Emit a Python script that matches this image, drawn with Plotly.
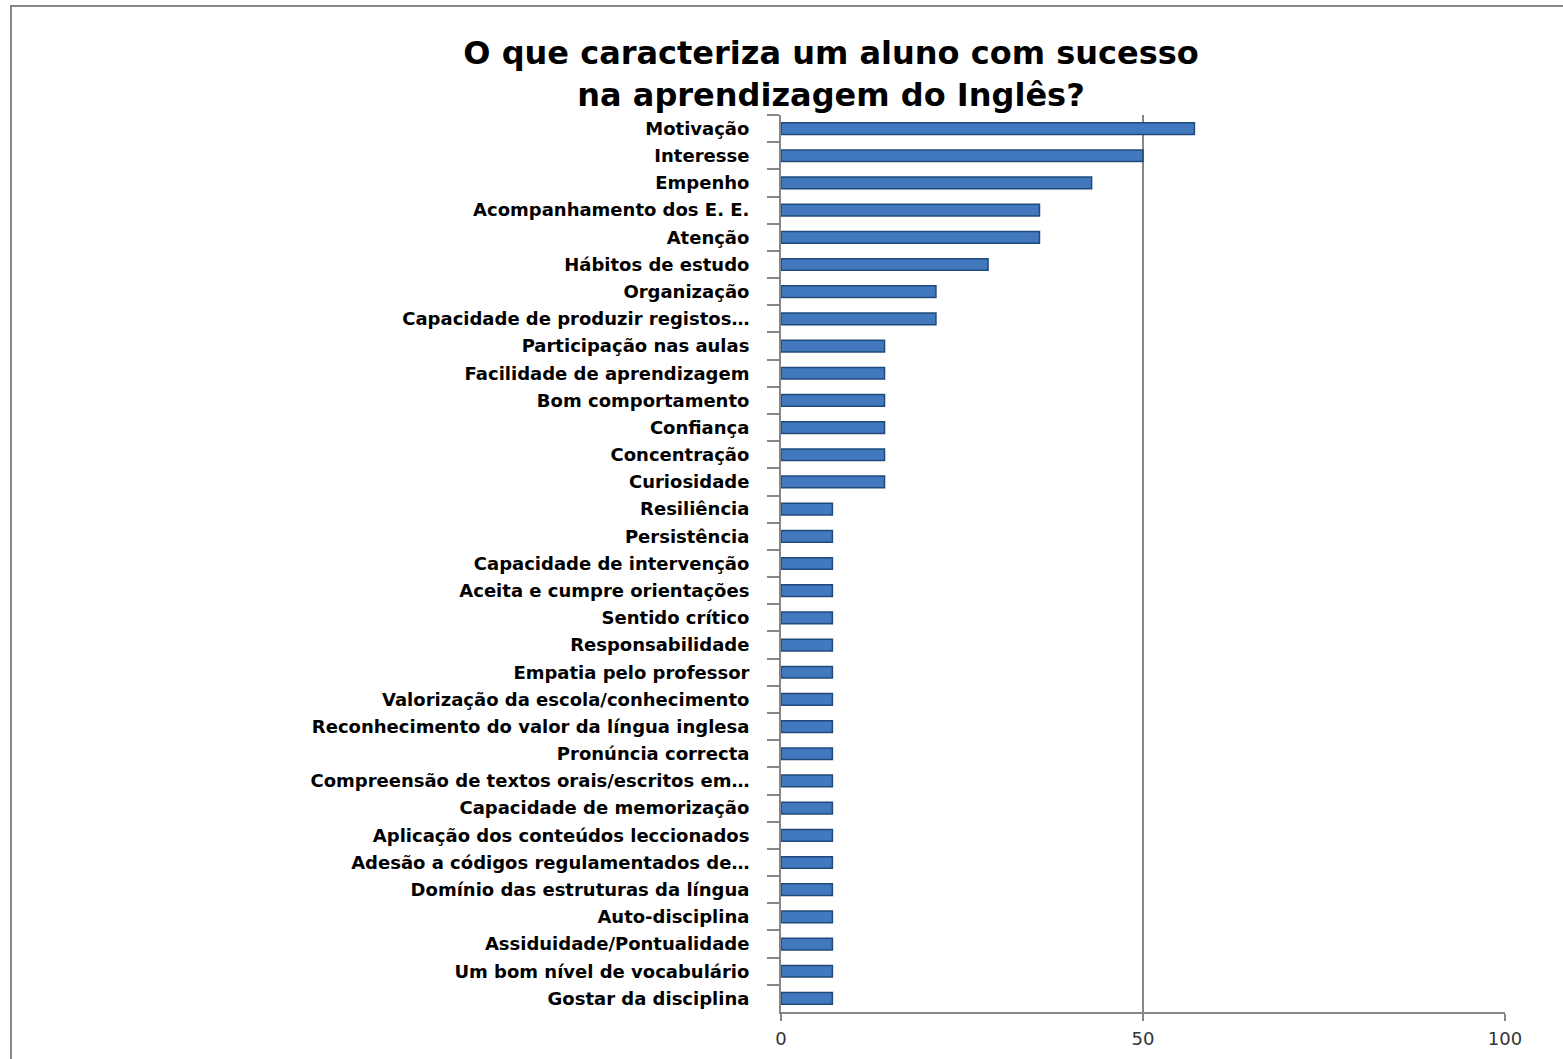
import plotly.graph_objects as go

categories = [
    "Motivação",
    "Interesse",
    "Empenho",
    "Acompanhamento dos E. E.",
    "Atenção",
    "Hábitos de estudo",
    "Organização",
    "Capacidade de produzir registos…",
    "Participação nas aulas",
    "Facilidade de aprendizagem",
    "Bom comportamento",
    "Confiança",
    "Concentração",
    "Curiosidade",
    "Resiliência",
    "Persistência",
    "Capacidade de intervenção",
    "Aceita e cumpre orientações",
    "Sentido crítico",
    "Responsabilidade",
    "Empatia pelo professor",
    "Valorização da escola/conhecimento",
    "Reconhecimento do valor da língua inglesa",
    "Pronúncia correcta",
    "Compreensão de textos orais/escritos em…",
    "Capacidade de memorização",
    "Aplicação dos conteúdos leccionados",
    "Adesão a códigos regulamentados de…",
    "Domínio das estruturas da língua",
    "Auto-disciplina",
    "Assiduidade/Pontualidade",
    "Um bom nível de vocabulário",
    "Gostar da disciplina",
]

values = [57.1, 50.0, 42.9, 35.7, 35.7, 28.6, 21.4, 21.4,
          14.3, 14.3, 14.3, 14.3, 14.3, 14.3,
          7.1, 7.1, 7.1, 7.1, 7.1, 7.1, 7.1, 7.1, 7.1, 7.1, 7.1,
          7.1, 7.1, 7.1, 7.1, 7.1, 7.1, 7.1, 7.1]

x_ticks = [0, 50, 100]

title_text = "O que caracteriza um aluno com sucesso<br>na aprendizagem do Inglês?"

fig = go.Figure()
fig.add_trace(go.Bar(
    x=values,
    y=categories,
    orientation="h",
    width=0.43,
    marker=dict(color="#4279BE", line=dict(color="#1F4A7A", width=1.5)),
    hoverinfo="x+y",
))

grey = "#878787"

fig.update_layout(
    width=1563,
    height=1059,
    paper_bgcolor="white",
    plot_bgcolor="white",
    showlegend=False,
    margin=dict(l=781, r=58, t=115, b=47, autoexpand=False),
    title=dict(
        text=title_text,
        x=831 / 1563,
        xanchor="center",
        y=1 - 64 / 1059,
        yanchor="top",
        font=dict(family="DejaVu Sans", size=32, color="black", weight="bold"),
    ),
    xaxis=dict(
        range=[0, 100],
        tickvals=x_ticks,
        ticks="outside",
        ticklen=7,
        tickwidth=2,
        tickcolor=grey,
        showgrid=True,
        gridcolor=grey,
        gridwidth=2,
        showline=True,
        linecolor=grey,
        linewidth=2,
        zeroline=False,
        tickfont=dict(family="DejaVu Sans", size=18, color="#333"),
        ticklabelstandoff=2,
        fixedrange=True,
    ),
    yaxis=dict(
        type="category",
        autorange="reversed",
        tickson="boundaries",
        ticks="outside",
        ticklen=12,
        tickwidth=2,
        tickcolor=grey,
        showline=True,
        linecolor=grey,
        linewidth=2,
        showgrid=False,
        tickfont=dict(family="DejaVu Sans", size=18, color="black", weight="bold"),
        ticklabelstandoff=26,
        fixedrange=True,
    ),
    shapes=[
        dict(
            type="rect", xref="paper", yref="paper",
            x0=(11 - 781) / 724, x1=(1600 - 781) / 724,
            y0=(1012 - 1100) / 897, y1=(1012 - 6) / 897,
            line=dict(color=grey, width=2), fillcolor="rgba(0,0,0,0)",
            layer="below",
        )
    ],
)

fig.write_html("out.html")
